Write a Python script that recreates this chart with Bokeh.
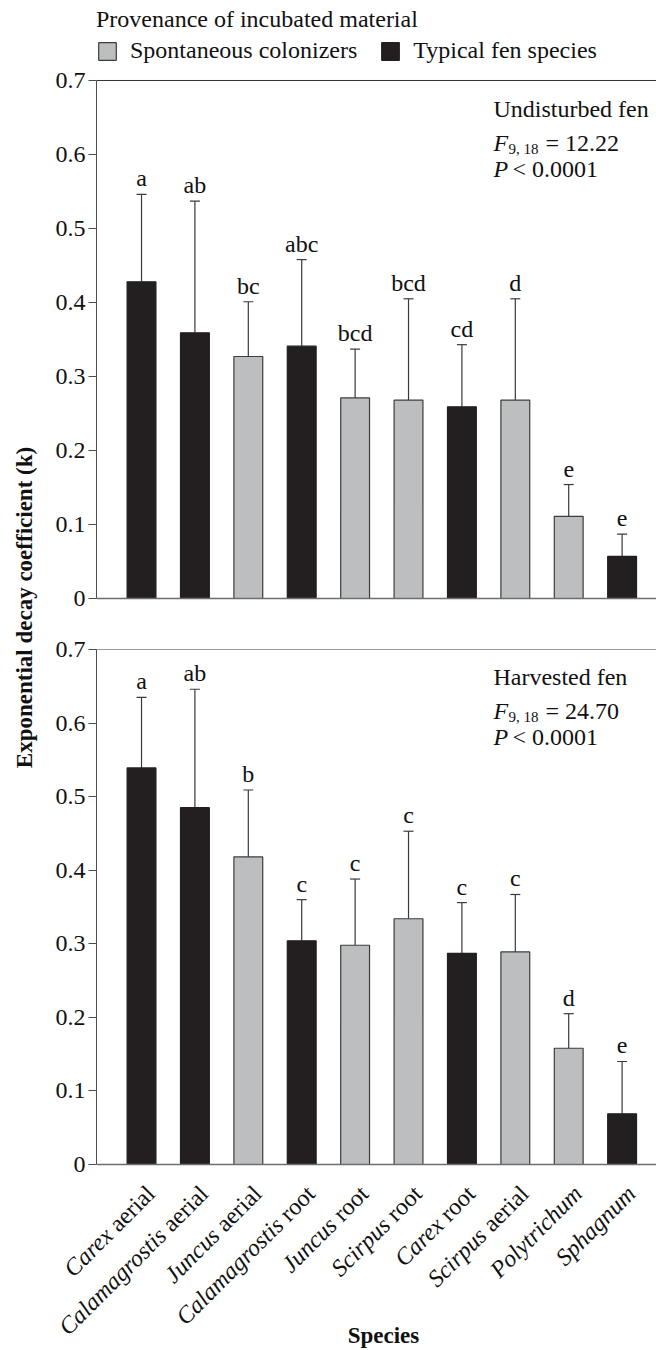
import math
from bokeh.plotting import figure
from bokeh.models import (ColumnDataSource, Range1d, FixedTicker, Span, Whisker, TeeHead,
                          LabelSet, Label, Legend, LegendItem, PrintfTickFormatter)
from bokeh.layouts import row, column
from bokeh.embed import file_html
from bokeh.resources import INLINE
from bokeh.core.properties import value

# ---------------- data ----------------
genus = ["Carex", "Calamagrostis", "Juncus", "Calamagrostis", "Juncus",
         "Scirpus", "Carex", "Scirpus", "Polytrichum", "Sphagnum"]
part = ["aerial", "aerial", "aerial", "root", "root",
        "root", "root", "aerial", "", ""]
provenance = ["Typical fen species", "Typical fen species", "Spontaneous colonizers",
              "Typical fen species", "Spontaneous colonizers", "Spontaneous colonizers",
              "Typical fen species", "Spontaneous colonizers", "Spontaneous colonizers",
              "Typical fen species"]

k_undisturbed = [0.428, 0.359, 0.327, 0.341, 0.271, 0.268, 0.259, 0.268, 0.111, 0.057]
err_undisturbed = [0.118, 0.178, 0.074, 0.117, 0.066, 0.137, 0.084, 0.137, 0.043, 0.030]
letters_undisturbed = ["a", "ab", "bc", "abc", "bcd", "bcd", "cd", "d", "e", "e"]

k_harvested = [0.539, 0.485, 0.418, 0.304, 0.298, 0.334, 0.287, 0.289, 0.158, 0.069]
err_harvested = [0.096, 0.161, 0.091, 0.056, 0.090, 0.119, 0.069, 0.078, 0.047, 0.071]
letters_harvested = ["a", "ab", "b", "c", "c", "c", "c", "c", "d", "e"]

y_ticks = [0, 0.1, 0.2, 0.3, 0.4, 0.5, 0.6, 0.7]
legend_labels = ["Spontaneous colonizers", "Typical fen species"]
legend_title = "Provenance of incubated material"
panel_titles = ["Undisturbed fen", "Harvested fen"]
f_values = ["= 12.22", "= 24.70"]
f_df = "9, 18"
p_text = "< 0.0001"
y_title = "Exponential decay coefficient (k)"
x_title = "Species"

# ---------------- style ----------------
SERIF = "Liberation Serif"
FS = "24px"
DARK = "#231f20"
GRAY = "#bcbec0"
TXT = "#111111"
fill_map = {"Typical fen species": DARK, "Spontaneous colonizers": GRAY}
line_map = {"Typical fen species": DARK, "Spontaneous colonizers": "#3c3c3c"}

PX_PER_X = 53.4
X_START = -0.843
X_END = 9.644
FIG_W = 618
LEFT_B = 58
PX_PER_Y_BOT = 735.7


def make_panel(k, err, letters, title, fval, height, b_top, b_bottom, y_range):
    x = list(range(len(genus)))
    src = ColumnDataSource(dict(
        x=x, k=k, upper=[a + b for a, b in zip(k, err)], letter=letters,
        fill=[fill_map[p] for p in provenance], line=[line_map[p] for p in provenance]))
    p = figure(width=FIG_W, height=height, output_backend="svg", toolbar_location=None,
               x_range=Range1d(X_START, X_END), y_range=Range1d(*y_range),
               x_axis_location=None, min_border_left=LEFT_B, min_border_right=0,
               min_border_top=b_top, min_border_bottom=b_bottom)
    p.outline_line_color = None
    p.grid.visible = False
    bars = p.vbar(x="x", top="k", width=0.54, bottom=0, source=src,
                  fill_color="fill", line_color="line", line_width=1.2)
    wh = Whisker(source=src, base="x", lower="k", upper="upper", dimension="height",
                 line_color="#3a3a3a", line_width=1.2, lower_head=None,
                 upper_head=TeeHead(size=10, line_color="#3a3a3a", line_width=1.2))
    p.add_layout(wh)
    p.add_layout(LabelSet(source=src, x="x", y="upper", text="letter", y_offset=8,
                          text_align="center", text_baseline="alphabetic",
                          text_font=value(SERIF), text_font_size=value(FS),
                          text_color=TXT))
    p.add_layout(Span(location=0, dimension="width", line_color="#6d6e71", line_width=1.6))
    p.add_layout(Span(location=0.7, dimension="width", line_color="#333333", line_width=1))

    ax = p.yaxis[0]
    ax.bounds = (0, 0.7)
    ax.ticker = FixedTicker(ticks=y_ticks)
    ax.formatter = PrintfTickFormatter(format="%.1f")
    ax.major_label_overrides = {0: "0"}
    ax.minor_tick_line_color = None
    ax.major_tick_in = 0
    ax.major_tick_out = 8
    ax.axis_line_color = "#4d4d4d"
    ax.major_tick_line_color = "#4d4d4d"
    ax.major_label_text_font = SERIF
    ax.major_label_text_font_size = FS
    ax.major_label_text_color = TXT
    ax.major_label_standoff = 3

    tx = 6.59
    common = dict(x_units="data", y_units="data", text_font=SERIF, text_color=TXT,
                  text_baseline="alphabetic")
    p.add_layout(Label(x=tx, y=0.662, text=title, text_font_size=FS, **common))
    p.add_layout(Label(x=tx, y=0.616, text="F", text_font_size=FS,
                       text_font_style="italic", **common))
    p.add_layout(Label(x=tx, y=0.616, x_offset=15, y_offset=-6, text=f_df,
                       text_font_size="15px", **common))
    p.add_layout(Label(x=tx, y=0.616, x_offset=52, text=fval, text_font_size=FS, **common))
    p.add_layout(Label(x=tx, y=0.581, text="P", text_font_size=FS,
                       text_font_style="italic", **common))
    p.add_layout(Label(x=tx, y=0.581, x_offset=19, text=p_text, text_font_size=FS, **common))
    return p, bars


# top panel: frame 0..604 px (740 px/unit); bottom: frame 649..1168 px (735.7 px/unit)
top, top_bars = make_panel(k_undisturbed, err_undisturbed, letters_undisturbed,
                           panel_titles[0], f_values[0], 620, 0, 16, (-0.0081, 0.8081))
bottom, _ = make_panel(k_harvested, err_harvested, letters_harvested,
                       panel_titles[1], f_values[1], 558, 29, 10,
                       (-4 / PX_PER_Y_BOT, 0.7))

# legend (inside the extended top frame, above the 0.7 line)
idx_sp = provenance.index(legend_labels[0])
idx_ty = provenance.index(legend_labels[1])
legend = Legend(items=[LegendItem(label=legend_labels[0], renderers=[top_bars], index=idx_sp),
                       LegendItem(label=legend_labels[1], renderers=[top_bars], index=idx_ty)],
                title=legend_title, orientation="horizontal",
                location=(0, 604 - 64),
                title_text_font=SERIF, title_text_font_size=FS, title_text_font_style="normal",
                title_text_color=TXT, title_standoff=4,
                label_text_font=SERIF, label_text_font_size=FS, label_text_color=TXT,
                glyph_width=22, glyph_height=22, label_standoff=12, spacing=22,
                padding=0, margin=0, border_line_color=None, background_fill_alpha=0)
top.add_layout(legend)

# species labels strip below the bottom panel (full page width)
XL_TOP = 14     # px between the zero line and the top of the strip
XL_H = 170
xl_start = X_START - 96 / PX_PER_X
xlab = figure(width=656, height=XL_H, output_backend="svg", toolbar_location=None,
              x_range=Range1d(xl_start, X_END),
              y_range=Range1d(-(XL_TOP + XL_H) / PX_PER_Y_BOT, -XL_TOP / PX_PER_Y_BOT),
              x_axis_location=None, y_axis_location=None, min_border=0)
xlab.outline_line_color = None
xlab.grid.visible = False

TIMES_W = {"a": 0.444, "e": 0.444, "r": 0.333, "i": 0.278, "l": 0.278,
           "o": 0.5, "t": 0.278, " ": 0.25}
c45 = math.cos(math.pi / 4)
AX, AY = 0, -16
for i, (g, s) in enumerate(zip(genus, part)):
    suf = (" " + s) if s else ""
    w = sum(TIMES_W[ch] for ch in suf) * 24
    lab = dict(x=i, y=0, angle=math.pi / 4, text_align="right", text_baseline="top",
               text_font=SERIF, text_font_size=FS, text_color=TXT)
    xlab.add_layout(Label(text=g, x_offset=AX - w * c45, y_offset=AY - w * c45,
                          text_font_style="italic", **lab))
    if s:
        xlab.add_layout(Label(text=s, x_offset=AX, y_offset=AY, **lab))

xlab.add_layout(Label(x=4.53, y=-(1335 - 1164) / PX_PER_Y_BOT, text=x_title, text_font=SERIF,
                      text_font_size="23px", text_font_style="bold", text_align="center",
                      text_baseline="alphabetic", text_color=TXT))

# y-axis title spanning both panels
YF_H = 620 + 558
yfig = figure(width=38, height=YF_H, output_backend="svg", toolbar_location=None,
              x_range=Range1d(0, 1), y_range=Range1d(0, 1), x_axis_location=None,
              y_axis_location=None, min_border=0)
yfig.outline_line_color = None
yfig.grid.visible = False
yfig.add_layout(Label(x=0.63, y=(YF_H - 607) / YF_H, text=y_title, angle=math.pi / 2,
                      text_font=SERIF, text_font_size="23px", text_font_style="bold",
                      text_align="center", text_baseline="middle", text_color=TXT))

layout = column(row(yfig, column(top, bottom)), xlab)
open("out.html", "w").write(file_html(layout, INLINE))
